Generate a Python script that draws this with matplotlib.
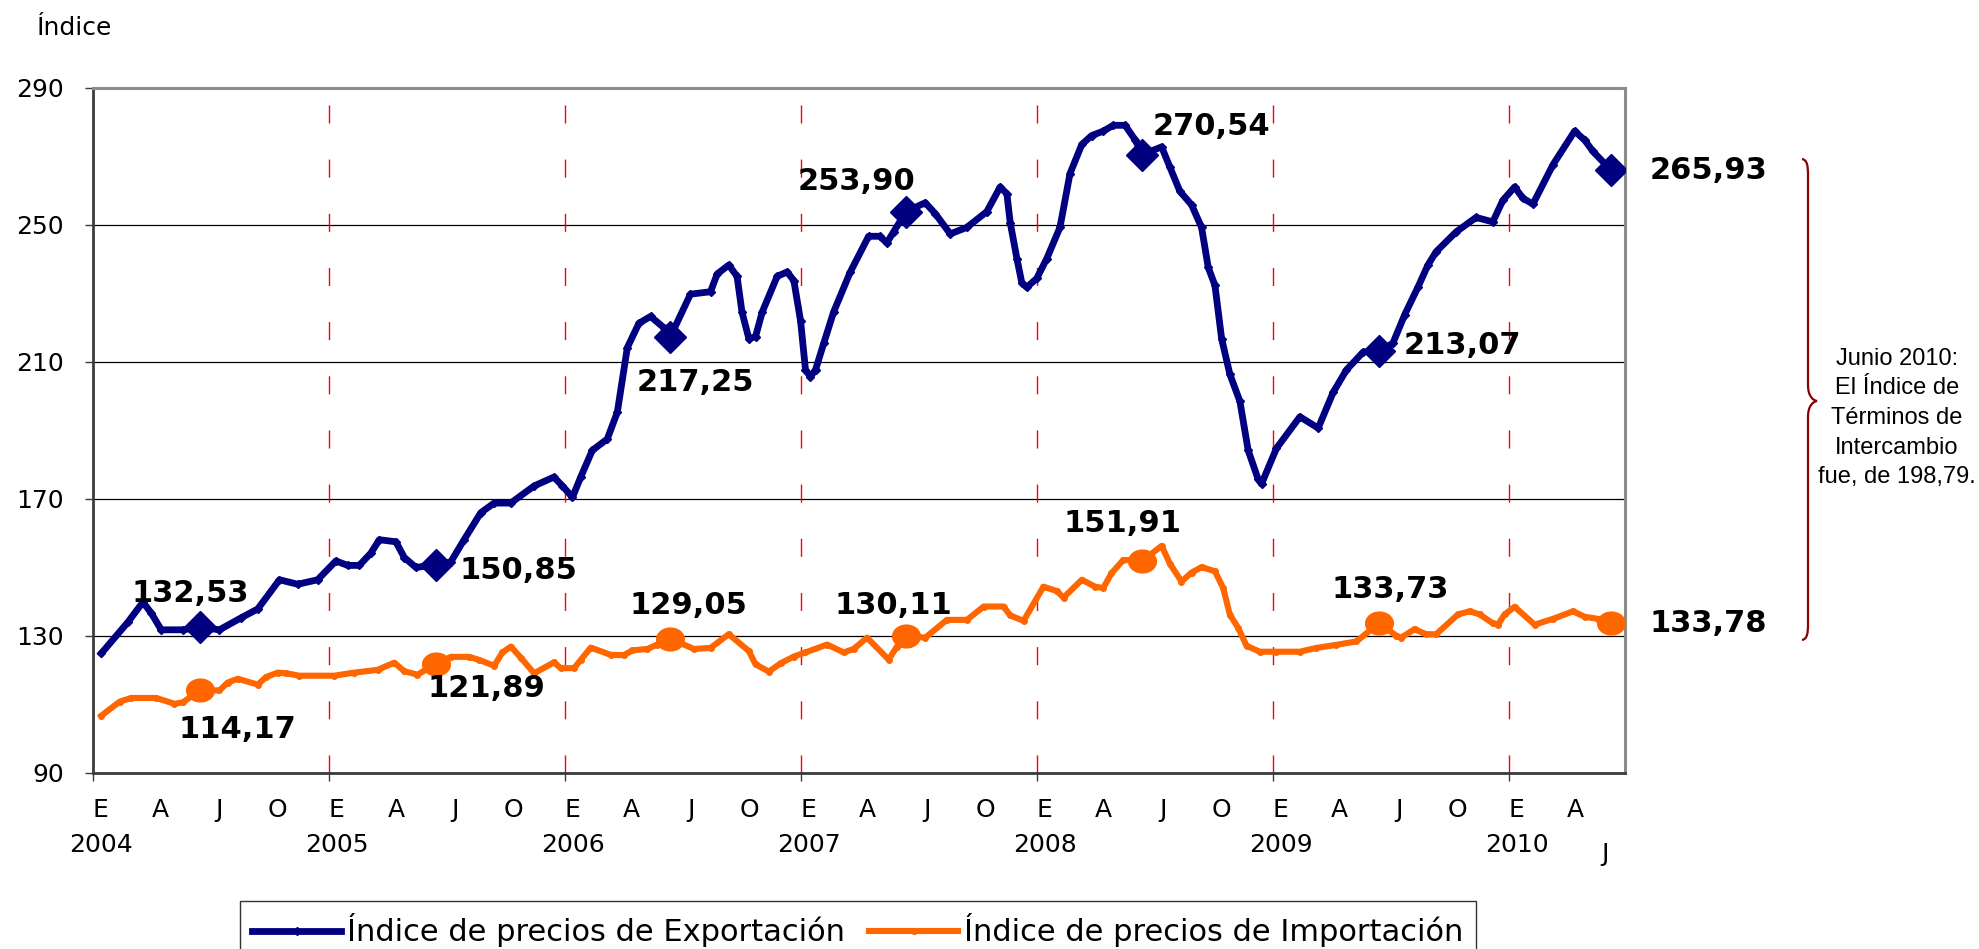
import numpy as np
import matplotlib
matplotlib.use("Agg")
import matplotlib.pyplot as plt
from matplotlib.path import Path
from matplotlib.patches import PathPatch
from matplotlib.transforms import Affine2D

# meses desde enero 2004 (0 = inicio de 2004)
meses_exp = [0.42, 1.77, 2.54, 2.97, 3.47, 4.57, 5.45, 6.43, 7.53, 8.38, 9.48, 10.41, 11.42,
             12.35, 12.95, 13.54, 14.13, 14.56, 15.40, 15.83, 16.42, 17.45, 18.19, 18.87, 19.72,
             20.40, 21.24, 22.43, 23.44, 23.87, 24.38, 24.80, 25.39, 26.15, 26.66, 27.17, 27.76,
             28.35, 29.03, 29.35, 30.38, 31.40, 31.74, 32.33, 32.75, 33.00, 33.35, 33.69, 34.03,
             34.79, 35.30, 35.64, 35.98, 36.23, 36.48, 36.74, 37.16, 37.66, 38.51, 39.44, 40.00,
             40.37, 40.71, 41.35, 42.32, 42.83, 43.59, 44.44, 45.45, 46.13, 46.47, 46.64, 46.98,
             47.23, 47.48, 47.99, 48.50, 49.17, 49.68, 50.28, 50.78, 51.37, 51.88, 52.48, 53.00,
             53.35, 54.34, 54.76, 55.27, 55.86, 56.37, 56.71, 57.05, 57.39, 57.81, 58.32, 58.74,
             59.25, 59.42, 60.18, 61.37, 62.30, 63.06, 63.74, 64.59, 65.40, 66.10, 66.70, 67.37,
             67.88, 68.30, 69.32, 70.33, 71.18, 71.69, 72.29, 72.71, 73.22, 74.24, 75.34, 75.85,
             76.27, 77.20]
exportacion = [124.9, 134.0, 139.9, 136.6, 131.8, 131.8, 132.53, 131.8, 135.3, 137.9, 146.4, 145.1, 146.4,
               151.9, 150.6, 150.6, 154.2, 158.1, 157.5, 152.9, 150.0, 150.85, 151.6, 158.1, 166.0,
               168.8, 168.8, 173.8, 176.4, 173.8, 170.5, 176.4, 184.2, 187.5, 195.3, 214.2, 221.3,
               223.3, 220.0, 217.25, 229.8, 230.5, 235.7, 238.3, 235.0, 224.6, 216.8, 217.4, 224.6,
               235.0, 236.3, 233.7, 222.0, 207.7, 205.7, 207.7, 215.5, 224.6, 236.3, 246.7, 246.7,
               244.8, 248.0, 253.90, 256.5, 253.3, 247.4, 249.3, 253.9, 261.1, 259.1, 250.7, 240.2,
               233.1, 231.8, 234.4, 240.2, 249.3, 265.0, 273.5, 276.1, 277.4, 279.1, 279.1, 274.8,
               270.54, 272.8, 266.9, 259.8, 255.9, 249.3, 237.6, 232.4, 216.8, 206.4, 198.5, 184.2,
               175.7, 174.4, 184.8, 194.0, 190.7, 201.1, 207.7, 212.9, 213.07, 215.5, 223.8, 231.8,
               238.3, 242.2, 248.0, 252.2, 250.9, 257.2, 261.1, 257.8, 256.1, 267.6, 277.4, 274.8,
               271.5, 265.93]

meses_imp = [0.42, 1.35, 1.94, 3.21, 4.14, 4.57, 5.45, 6.43, 6.85, 7.36, 8.38, 8.80, 9.39, 9.82,
             10.49, 12.27, 13.29, 14.47, 15.32, 15.83, 16.50, 17.45, 18.20, 19.13, 19.64, 20.40,
             20.82, 21.25, 21.76, 22.43, 23.44, 23.78, 24.46, 24.80, 25.31, 26.32, 27.00, 27.43,
             28.19, 28.69, 29.35, 29.88, 30.56, 31.40, 32.33, 33.35, 33.69, 34.37, 34.96, 35.64,
             36.23, 37.33, 38.17, 38.68, 39.36, 40.46, 40.88, 41.35, 42.32, 43.42, 44.44, 45.29,
             46.30, 46.64, 47.32, 48.33, 49.01, 49.35, 50.28, 50.96, 51.37, 51.79, 52.39, 53.35,
             54.34, 54.76, 55.35, 55.86, 56.37, 57.05, 57.47, 57.81, 58.24, 58.66, 59.33, 60.18,
             61.37, 62.20, 63.22, 64.24, 65.40, 66.27, 66.52, 67.20, 67.79, 68.30, 69.41, 70.00,
             70.51, 71.18, 71.44, 71.78, 72.29, 73.31, 74.24, 75.26, 75.85, 76.53, 77.20]
importacion = [106.7, 110.8, 111.9, 111.9, 110.2, 110.6, 114.17, 114.1, 116.4, 117.5, 115.8, 118.0, 119.3, 119.1,
               118.4, 118.4, 119.3, 120.1, 122.2, 119.7, 118.7, 121.89, 123.9, 123.9, 123.0, 121.3,
               125.2, 126.9, 123.6, 119.1, 122.3, 120.6, 120.6, 123.0, 126.6, 124.5, 124.4, 125.8,
               126.2, 127.5, 129.05, 127.9, 126.2, 126.5, 130.5, 125.6, 121.7, 119.6, 122.0, 124.0,
               125.2, 127.5, 125.2, 126.2, 129.5, 123.1, 126.9, 130.11, 129.5, 134.7, 134.7, 138.6,
               138.6, 136.0, 134.4, 144.4, 143.1, 141.2, 146.4, 144.4, 144.0, 148.3, 152.2, 151.91,
               156.3, 151.1, 145.9, 148.5, 150.1, 148.9, 144.0, 136.2, 132.3, 127.1, 125.4, 125.4,
               125.4, 126.5, 127.4, 128.4, 133.73, 130.1, 129.5, 132.0, 130.5, 130.5, 136.3, 137.2,
               136.3, 133.7, 133.3, 136.3, 138.5, 133.3, 135.0, 137.2, 135.6, 135.0, 133.78]

# valores de junio de cada año, destacados
meses_junio = [5.45, 17.45, 29.35, 41.35, 53.35, 65.40, 77.20]
exp_junio = [132.53, 150.85, 217.25, 253.90, 270.54, 213.07, 265.93]
imp_junio = [114.17, 121.89, 129.05, 130.11, 151.91, 133.73, 133.78]

# desplazamiento de cada etiqueta (puntos)
desp_exp = [(-7, 24), (59, -4), (18, -33), (-36, 22), (50, 20), (60, 4), (70, 0)]
desp_imp = [(27, -28), (36, -18), (13, 24), (-9, 22), (-14, 27), (8, 24), (70, 0)]

anios = ['2004', '2005', '2006', '2007', '2008', '2009', '2010']
letras_mes = ['E', 'A', 'J', 'O']

azul = '#000080'
naranja = '#FF6600'

plt.rcParams['font.family'] = ['DejaVu Sans']

fig = plt.figure(figsize=(19.79, 9.49), dpi=100)
ax = fig.add_axes([0.047, 0.1855, 0.7741, 0.7218])

ax.set_xlim(0, 77.9)
ax.set_ylim(90, 290)

# lineas de año en rojo discontinuo
for k in range(1, 7):
    ax.axvline(12 * k, color='red', lw=1, ls=(0, (13, 26)), zorder=1)

ax.set_yticks([90, 130, 170, 210, 250, 290])
ax.yaxis.grid(True, color='black', lw=0.9, zorder=0)
ax.set_axisbelow(True)

ax.plot(meses_exp, exportacion, color=azul, lw=4.9, marker='D', ms=4,
        label='Índice de precios de Exportación', zorder=3)
ax.plot(meses_imp, importacion, color=naranja, lw=4.4, marker='o', ms=4,
        label='Índice de precios de Importación', zorder=3)

elipse = Path.unit_circle().transformed(Affine2D().scale(1, 0.82))
ax.plot(meses_junio, exp_junio, ls='none', marker='D', ms=16, color=azul, zorder=4)
ax.plot(meses_junio, imp_junio, ls='none', marker=elipse, ms=20, color=naranja, zorder=4)

def etiqueta(v):
    return f'{v:.2f}'.replace('.', ',')

for m, v, d in zip(meses_junio, exp_junio, desp_exp):
    ax.annotate(etiqueta(v), (m, v), xytext=d, textcoords='offset points',
                ha='center', va='center', fontsize=22, fontweight='bold', zorder=5)
for m, v, d in zip(meses_junio, imp_junio, desp_imp):
    ax.annotate(etiqueta(v), (m, v), xytext=d, textcoords='offset points',
                ha='center', va='center', fontsize=22, fontweight='bold', zorder=5)

# ejes
for lado in ['left', 'bottom']:
    ax.spines[lado].set_color('#3c3c3c')
    ax.spines[lado].set_linewidth(2)
for lado in ['top', 'right']:
    ax.spines[lado].set_color('#8c8c8c')
    ax.spines[lado].set_linewidth(2.2)

ax.tick_params(axis='y', direction='out', length=6, width=1, color='#3c3c3c',
               labelsize=18, pad=15)
ax.set_xticks([0, 12, 24, 36, 48, 60, 72])
ax.tick_params(axis='x', direction='out', length=6, width=1, color='#3c3c3c',
               labelbottom=False)

tr = ax.get_xaxis_transform()
for i in range(26):
    ax.text(3 * i + 0.4, -0.054, letras_mes[i % 4], transform=tr, ha='center',
            va='center', fontsize=18)
for i, a in enumerate(anios):
    ax.text(12 * i + 0.4, -0.105, a, transform=tr, ha='center', va='center', fontsize=18)
ax.text(76.9, -0.118, 'J', transform=tr, ha='center', va='center', fontsize=18)

fig.text(0.0185, 0.97, 'Índice', ha='left', va='center', fontsize=18)

leg = fig.legend(loc='upper left', bbox_to_anchor=(240 / 1979, 1 - 901 / 949),
                 ncol=2, fontsize=22, frameon=True, fancybox=False, handlelength=2.9,
                 handletextpad=0.2, columnspacing=0.8, borderpad=0.4, numpoints=1,
                 borderaxespad=0)
leg.get_frame().set_edgecolor('black')
leg.get_frame().set_linewidth(1)

# llave a la derecha
W, H = 1979, 949
pts = [(1802, 159), (1807, 160), (1808, 165), (1808, 175),
       (1808, 385),
       (1808, 395), (1812, 400), (1817, 401),
       (1812, 402), (1808, 407), (1808, 417),
       (1808, 624),
       (1808, 634), (1807, 639), (1802, 640)]
codes = [Path.MOVETO, Path.CURVE4, Path.CURVE4, Path.CURVE4,
         Path.LINETO,
         Path.CURVE4, Path.CURVE4, Path.CURVE4,
         Path.CURVE4, Path.CURVE4, Path.CURVE4,
         Path.LINETO,
         Path.CURVE4, Path.CURVE4, Path.CURVE4]
llave = Path([(x / W, 1 - y / H) for x, y in pts], codes)
fig.patches.append(PathPatch(llave, transform=fig.transFigure, fill=False,
                             edgecolor='#8B0000', lw=1.6))

fig.text(1897 / W, 1 - 418 / H,
         'Junio 2010:\nEl Índice de\nTérminos de\nIntercambio\nfue, de 198,79.',
         ha='center', va='center', multialignment='center', fontsize=17, linespacing=1.45,
         family=['Liberation Sans Narrow', 'Liberation Sans'])

fig.savefig('out.png', dpi=100)
